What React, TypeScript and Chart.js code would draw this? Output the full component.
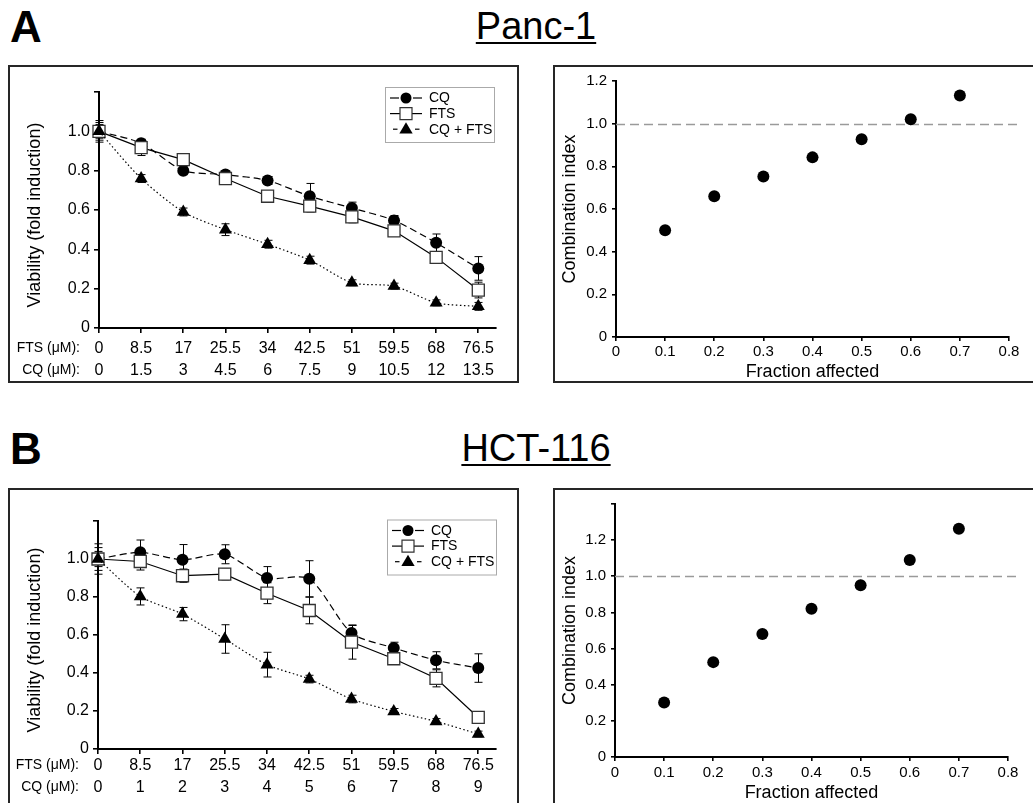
import React, { useEffect, useRef } from 'react';
import { Chart, registerables } from 'chart.js';

Chart.register(...registerables);

const FONT = "'Liberation Sans', Arial, Helvetica, sans-serif";

// ---------- data ----------
const FTS_DOSES = ['0', '8.5', '17', '25.5', '34', '42.5', '51', '59.5', '68', '76.5'];
const CQ_DOSES_PANC = ['0', '1.5', '3', '4.5', '6', '7.5', '9', '10.5', '12', '13.5'];
const CQ_DOSES_HCT = ['0', '1', '2', '3', '4', '5', '6', '7', '8', '9'];
const DOSE_POSITIONS = [0, 1, 2, 3, 4, 5, 6, 7, 8, 9];
const ROW_TITLES = ['FTS (\u03BCM):', 'CQ (\u03BCM):'];
const SERIES_NAMES = ['CQ', 'FTS', 'CQ + FTS'];
const VIABILITY_TITLE = 'Viability (fold induction)';

const PANC_CQ = [1.0, 0.94, 0.8, 0.78, 0.75, 0.67, 0.61, 0.547, 0.433, 0.303];
const PANC_CQ_ERR = [0.055, 0.02, 0.02, 0.02, 0.02, 0.065, 0.03, 0.025, 0.045, 0.06];
const PANC_FTS = [1.0, 0.917, 0.856, 0.76, 0.67, 0.62, 0.565, 0.494, 0.359, 0.193];
const PANC_FTS_ERR = [0.045, 0.04, 0.02, 0.02, 0.02, 0.03, 0.03, 0.02, 0.03, 0.04];
const PANC_COMBO = [1.0, 0.76, 0.59, 0.5, 0.426, 0.345, 0.23, 0.213, 0.128, 0.11];
const PANC_COMBO_ERR = [0.035, 0.02, 0.02, 0.03, 0.02, 0.02, 0.015, 0.015, 0.015, 0.02];

const HCT_CQ = [1.0, 1.035, 0.996, 1.025, 0.9, 0.896, 0.61, 0.532, 0.467, 0.426];
const HCT_CQ_ERR = [0.08, 0.065, 0.08, 0.05, 0.06, 0.095, 0.04, 0.03, 0.045, 0.075];
const HCT_FTS = [1.0, 0.987, 0.912, 0.92, 0.82, 0.729, 0.563, 0.475, 0.372, 0.166];
const HCT_FTS_ERR = [0.06, 0.045, 0.035, 0.03, 0.055, 0.07, 0.09, 0.03, 0.045, 0.03];
const HCT_COMBO = [1.0, 0.803, 0.71, 0.579, 0.444, 0.368, 0.263, 0.198, 0.145, 0.079];
const HCT_COMBO_ERR = [0.04, 0.045, 0.035, 0.075, 0.065, 0.02, 0.02, 0.015, 0.015, 0.015];

const FRACTION_AFFECTED = [0.1, 0.2, 0.3, 0.4, 0.5, 0.6, 0.7];
const PANC_CI = [0.5, 0.66, 0.752, 0.842, 0.927, 1.021, 1.132];
const HCT_CI = [0.301, 0.525, 0.68, 0.821, 0.951, 1.09, 1.263];
const ADDITIVE_CI = 1.0;

const VIABILITY_TICKS = [0, 0.2, 0.4, 0.6, 0.8, 1.0, 1.2];
const CI_TICKS_PANC = [0, 0.2, 0.4, 0.6, 0.8, 1.0, 1.2];
const CI_TICKS_HCT = [0, 0.2, 0.4, 0.6, 0.8, 1.0, 1.2, 1.4];
const FA_TICKS = [0, 0.1, 0.2, 0.3, 0.4, 0.5, 0.6, 0.7, 0.8];

// ---------- helpers ----------
const TICK_LEN = 5;
const DOSE_FONT = 16;
const DOSE_LINE_H = 22.4;

function fmt(v: number) {
  return v === 0 ? '0' : v.toFixed(1);
}

function drawMarker(ctx: CanvasRenderingContext2D, style: string, x: number, y: number, r: number) {
  ctx.save();
  ctx.setLineDash([]);
  ctx.beginPath();
  if (style === 'circle') {
    ctx.arc(x, y, r, 0, Math.PI * 2);
    ctx.fillStyle = '#000';
    ctx.fill();
  } else if (style === 'rect') {
    ctx.rect(x - r, y - r, 2 * r, 2 * r);
    ctx.fillStyle = '#fff';
    ctx.fill();
    ctx.lineWidth = 1.2;
    ctx.strokeStyle = '#333';
    ctx.stroke();
  } else {
    ctx.moveTo(x, y - r);
    ctx.lineTo(x + r * 0.95, y + r * 0.6);
    ctx.lineTo(x - r * 0.95, y + r * 0.6);
    ctx.closePath();
    ctx.fillStyle = '#000';
    ctx.fill();
  }
  ctx.restore();
}

function errorBarPlugin(errors: number[][]) {
  return {
    id: 'errorBars',
    beforeDatasetsDraw(chart: any) {
      const { ctx } = chart;
      const xs = chart.scales.x;
      const ys = chart.scales.y;
      ctx.save();
      ctx.strokeStyle = '#000';
      ctx.lineWidth = 1;
      ctx.setLineDash([]);
      chart.data.datasets.forEach((ds: any, di: number) => {
        const e = errors[di];
        ds.data.forEach((p: any, i: number) => {
          const px = Math.round(xs.getPixelForValue(p.x)) + 0.5;
          const t = ys.getPixelForValue(p.y + e[i]);
          const b = ys.getPixelForValue(p.y - e[i]);
          ctx.beginPath();
          ctx.moveTo(px, t);
          ctx.lineTo(px, b);
          ctx.moveTo(px - 4, t);
          ctx.lineTo(px + 4, t);
          ctx.moveTo(px - 4, b);
          ctx.lineTo(px + 4, b);
          ctx.stroke();
        });
      });
      ctx.restore();
    },
  };
}

function legendPlugin(dx: number, dy: number) {
  const W = 109;
  const H = 55;
  const styles = [
    { marker: 'circle', r: 5.5, segs: [[5, 14], [28, 37]] },
    { marker: 'rect', r: 6, segs: [[5, 37]] },
    { marker: 'triangle', r: 7, segs: [[8, 12.5], [30, 34.5]] },
  ];
  return {
    id: 'seriesLegend',
    afterDraw(chart: any) {
      const { ctx, chartArea } = chart;
      const x0 = chartArea.right + dx - W;
      const y0 = chartArea.top + dy;
      ctx.save();
      ctx.fillStyle = '#fff';
      ctx.fillRect(x0, y0, W, H);
      ctx.strokeStyle = '#aaa';
      ctx.lineWidth = 1;
      ctx.strokeRect(x0 + 0.5, y0 + 0.5, W, H);
      SERIES_NAMES.forEach((name, i) => {
        const cy = y0 + 11 + i * 15.6;
        const st = styles[i];
        ctx.strokeStyle = '#000';
        ctx.lineWidth = 1.2;
        st.segs.forEach(([a, b]) => {
          ctx.beginPath();
          ctx.moveTo(x0 + a, cy);
          ctx.lineTo(x0 + b, cy);
          ctx.stroke();
        });
        drawMarker(ctx, st.marker, x0 + 21, cy, st.r);
        ctx.fillStyle = '#000';
        ctx.font = `14px ${FONT}`;
        ctx.textAlign = 'left';
        ctx.textBaseline = 'middle';
        ctx.fillText(name, x0 + 44, cy + 0.5);
      });
      ctx.restore();
    },
  };
}

function doseRowsPlugin(tickPad: number, gap: number) {
  return {
    id: 'doseRows',
    afterDraw(chart: any) {
      const { ctx, chartArea } = chart;
      ctx.save();
      ctx.fillStyle = '#000';
      ctx.font = `14px ${FONT}`;
      ctx.textAlign = 'right';
      ctx.textBaseline = 'middle';
      ROW_TITLES.forEach((t, i) => {
        ctx.fillText(t, chartArea.left - gap, chartArea.bottom + TICK_LEN + tickPad + DOSE_LINE_H / 2 + i * DOSE_LINE_H);
      });
      ctx.restore();
    },
  };
}

function yTitlePlugin(size: number, centerX: number, dy: number) {
  return {
    id: 'viabilityTitle',
    afterDraw(chart: any) {
      const { ctx, chartArea } = chart;
      ctx.save();
      ctx.translate(centerX, (chartArea.top + chartArea.bottom) / 2 + dy);
      ctx.rotate(-Math.PI / 2);
      ctx.fillStyle = '#000';
      ctx.font = `${size}px ${FONT}`;
      ctx.textAlign = 'center';
      ctx.textBaseline = 'middle';
      ctx.fillText(VIABILITY_TITLE, 0, 0);
      ctx.restore();
    },
  };
}

function additivityPlugin() {
  return {
    id: 'additivity',
    beforeDatasetsDraw(chart: any) {
      const { ctx, chartArea } = chart;
      const y = Math.round(chart.scales.y.getPixelForValue(ADDITIVE_CI)) + 0.5;
      ctx.save();
      ctx.strokeStyle = '#9a9a9a';
      ctx.lineWidth = 1.3;
      ctx.setLineDash([9, 5]);
      ctx.beginPath();
      ctx.moveTo(chartArea.left, y);
      ctx.lineTo(chartArea.right + 9, y);
      ctx.stroke();
      ctx.restore();
    },
  };
}

type Geom = { left: number; top: number; right: number; bottom: number };

function viabilityConfig(
  w: number,
  h: number,
  g: Geom,
  cq: number[],
  cqErr: number[],
  fts: number[],
  ftsErr: number[],
  combo: number[],
  comboErr: number[],
  cqDoses: string[],
  tickPad: number,
  legendDx: number,
  legendDy: number,
  titleSize: number,
  titleDy: number
): any {
  const pts = (vals: number[]) => DOSE_POSITIONS.map((x, i) => ({ x, y: vals[i] }));
  const axisGrid = { drawOnChartArea: false, drawTicks: true, tickLength: TICK_LEN, color: '#000', lineWidth: 1.6 };
  const axisBorder = { display: true, color: '#000', width: 2 };
  return {
    type: 'line',
    data: {
      datasets: [
        {
          label: SERIES_NAMES[0],
          data: pts(cq),
          order: 2,
          borderColor: '#000',
          borderWidth: 1.2,
          borderDash: [7, 4],
          tension: 0.25,
          pointStyle: 'circle',
          pointRadius: 6,
          pointBackgroundColor: '#000',
          pointBorderColor: '#000',
          pointBorderWidth: 0,
          clip: false,
        },
        {
          label: SERIES_NAMES[1],
          data: pts(fts),
          order: 1,
          borderColor: '#000',
          borderWidth: 1.2,
          tension: 0,
          pointStyle: 'rect',
          pointRadius: 8.5,
          pointBackgroundColor: '#fff',
          pointBorderColor: '#333',
          pointBorderWidth: 1.3,
          clip: false,
        },
        {
          label: SERIES_NAMES[2],
          data: pts(combo),
          order: 0,
          borderColor: '#000',
          borderWidth: 1.2,
          borderDash: [1.5, 2.5],
          tension: 0.25,
          pointStyle: 'triangle',
          pointRadius: 7.5,
          pointBackgroundColor: '#000',
          pointBorderColor: '#000',
          pointBorderWidth: 0,
          clip: false,
        },
      ],
    },
    options: {
      animation: false,
      responsive: false,
      maintainAspectRatio: false,
      events: [],
      layout: { padding: { left: 0, top: g.top, right: w - g.right, bottom: 0 } },
      plugins: { legend: { display: false }, tooltip: { enabled: false } },
      scales: {
        x: {
          type: 'linear',
          min: 0,
          max: 9.42,
          afterBuildTicks: (s: any) => {
            s.ticks = DOSE_POSITIONS.map((v) => ({ value: v }));
          },
          afterFit: (s: any) => {
            s.height = h - g.bottom;
          },
          ticks: {
            callback: (v: number) => [FTS_DOSES[v], cqDoses[v]],
            font: { family: FONT, size: DOSE_FONT, lineHeight: DOSE_LINE_H / DOSE_FONT },
            color: '#000',
            padding: tickPad,
            maxRotation: 0,
            autoSkip: false,
          },
          grid: axisGrid,
          border: axisBorder,
        },
        y: {
          type: 'linear',
          min: 0,
          max: 1.2,
          afterBuildTicks: (s: any) => {
            s.ticks = VIABILITY_TICKS.map((v) => ({ value: v }));
          },
          afterFit: (s: any) => {
            s.width = g.left;
          },
          ticks: {
            callback: (v: number) => (v > 1.05 ? '' : fmt(v)),
            font: { family: FONT, size: 16 },
            color: '#000',
            padding: 4,
          },
          title: { display: false },
          grid: axisGrid,
          border: axisBorder,
        },
      },
    },
    plugins: [
      errorBarPlugin([cqErr, ftsErr, comboErr]),
      legendPlugin(legendDx, legendDy),
      doseRowsPlugin(tickPad, 19),
      yTitlePlugin(titleSize, 25, titleDy),
    ],
  };
}

function ciConfig(w: number, h: number, g: Geom, ci: number[], yTicks: number[], yMax: number, labelMax: number, xPad: number, titlePad: number): any {
  const axisGrid = { drawOnChartArea: false, drawTicks: true, tickLength: 4, color: '#000', lineWidth: 1.6 };
  const axisBorder = { display: true, color: '#000', width: 2 };
  return {
    type: 'scatter',
    data: {
      datasets: [
        {
          label: 'Combination index',
          data: FRACTION_AFFECTED.map((x, i) => ({ x, y: ci[i] })),
          pointStyle: 'circle',
          pointRadius: 6,
          pointBackgroundColor: '#000',
          pointBorderColor: '#000',
          pointBorderWidth: 0,
          showLine: false,
          clip: false,
        },
      ],
    },
    options: {
      animation: false,
      responsive: false,
      maintainAspectRatio: false,
      events: [],
      layout: { padding: { left: 0, top: g.top, right: w - g.right, bottom: 0 } },
      plugins: { legend: { display: false }, tooltip: { enabled: false } },
      scales: {
        x: {
          type: 'linear',
          min: 0,
          max: 0.8,
          afterBuildTicks: (s: any) => {
            s.ticks = FA_TICKS.map((v) => ({ value: v }));
          },
          afterFit: (s: any) => {
            s.height = h - g.bottom;
          },
          ticks: {
            callback: (v: number) => fmt(v),
            font: { family: FONT, size: 15 },
            color: '#000',
            padding: xPad,
            maxRotation: 0,
            autoSkip: false,
          },
          title: {
            display: true,
            text: 'Fraction affected',
            font: { family: FONT, size: 18, lineHeight: 1 },
            color: '#000',
            padding: { top: 0, bottom: titlePad },
          },
          grid: axisGrid,
          border: axisBorder,
        },
        y: {
          type: 'linear',
          min: 0,
          max: yMax,
          afterBuildTicks: (s: any) => {
            s.ticks = yTicks.map((v) => ({ value: v }));
          },
          afterFit: (s: any) => {
            s.width = g.left;
          },
          ticks: {
            callback: (v: number) => (v > labelMax + 0.01 ? '' : fmt(v)),
            font: { family: FONT, size: 15 },
            color: '#000',
            padding: 5,
          },
          title: {
            display: true,
            text: 'Combination index',
            font: { family: FONT, size: 18 },
            color: '#000',
            padding: { top: 4, bottom: 0 },
          },
          grid: axisGrid,
          border: axisBorder,
        },
      },
    },
    plugins: [additivityPlugin()],
  };
}

function Panel(props: { left: number; top: number; width: number; height: number; build: (w: number, h: number) => any }) {
  const ref = useRef<HTMLCanvasElement>(null);
  const cw = props.width - 4;
  const ch = props.height - 4;
  useEffect(() => {
    const chart = new Chart(ref.current as HTMLCanvasElement, props.build(cw, ch));
    return () => chart.destroy();
  }, []);
  return (
    <div
      style={{
        position: 'absolute',
        left: props.left,
        top: props.top,
        width: props.width,
        height: props.height,
        border: '2px solid #262626',
        boxSizing: 'border-box',
        background: '#fff',
      }}
    >
      <canvas ref={ref} width={cw} height={ch} style={{ display: 'block', width: cw, height: ch }} />
    </div>
  );
}

const letterStyle: React.CSSProperties = {
  position: 'absolute',
  left: 10,
  fontFamily: FONT,
  fontWeight: 'bold',
  fontSize: 44,
  lineHeight: '44px',
  color: '#000',
};

const headStyle: React.CSSProperties = {
  position: 'absolute',
  left: 536,
  transform: 'translateX(-50%)',
  fontFamily: FONT,
  fontSize: 38,
  lineHeight: '38px',
  color: '#000',
  textDecoration: 'underline',
  textDecorationThickness: '2px',
  textUnderlineOffset: '3px',
  whiteSpace: 'nowrap',
};

export default function App() {
  return (
    <div style={{ position: 'absolute', left: 0, top: 0, width: 1033, height: 803, overflow: 'hidden', background: '#fff' }}>
      <div style={{ ...letterStyle, top: 5 }}>A</div>
      <div style={{ ...headStyle, top: 7 }}>Panc-1</div>
      <div style={{ ...letterStyle, top: 427 }}>B</div>
      <div style={{ ...headStyle, top: 429 }}>HCT-116</div>

      <Panel
        left={8}
        top={65}
        width={511}
        height={318}
        build={(w, h) =>
          viabilityConfig(
            w,
            h,
            { left: 89, top: 25, right: 486, bottom: 261 },
            PANC_CQ,
            PANC_CQ_ERR,
            PANC_FTS,
            PANC_FTS_ERR,
            PANC_COMBO,
            PANC_COMBO_ERR,
            CQ_DOSES_PANC,
            4,
            -2,
            -5,
            18,
            5
          )
        }
      />
      <Panel
        left={553}
        top={65}
        width={490}
        height={318}
        build={(w, h) => ciConfig(w, h, { left: 61, top: 11, right: 454, bottom: 270 }, PANC_CI, CI_TICKS_PANC, 1.2, 1.2, 1.5, 0)}
      />
      <Panel
        left={8}
        top={488}
        width={511}
        height={322}
        build={(w, h) =>
          viabilityConfig(
            w,
            h,
            { left: 88, top: 31, right: 486, bottom: 259 },
            HCT_CQ,
            HCT_CQ_ERR,
            HCT_FTS,
            HCT_FTS_ERR,
            HCT_COMBO,
            HCT_COMBO_ERR,
            CQ_DOSES_HCT,
            0,
            0,
            -1.5,
            18,
            5
          )
        }
      />
      <Panel
        left={553}
        top={488}
        width={490}
        height={322}
        build={(w, h) => ciConfig(w, h, { left: 60, top: 8, right: 453, bottom: 267 }, HCT_CI, CI_TICKS_HCT, 1.4, 1.2, 2.5, 6)}
      />
    </div>
  );
}
